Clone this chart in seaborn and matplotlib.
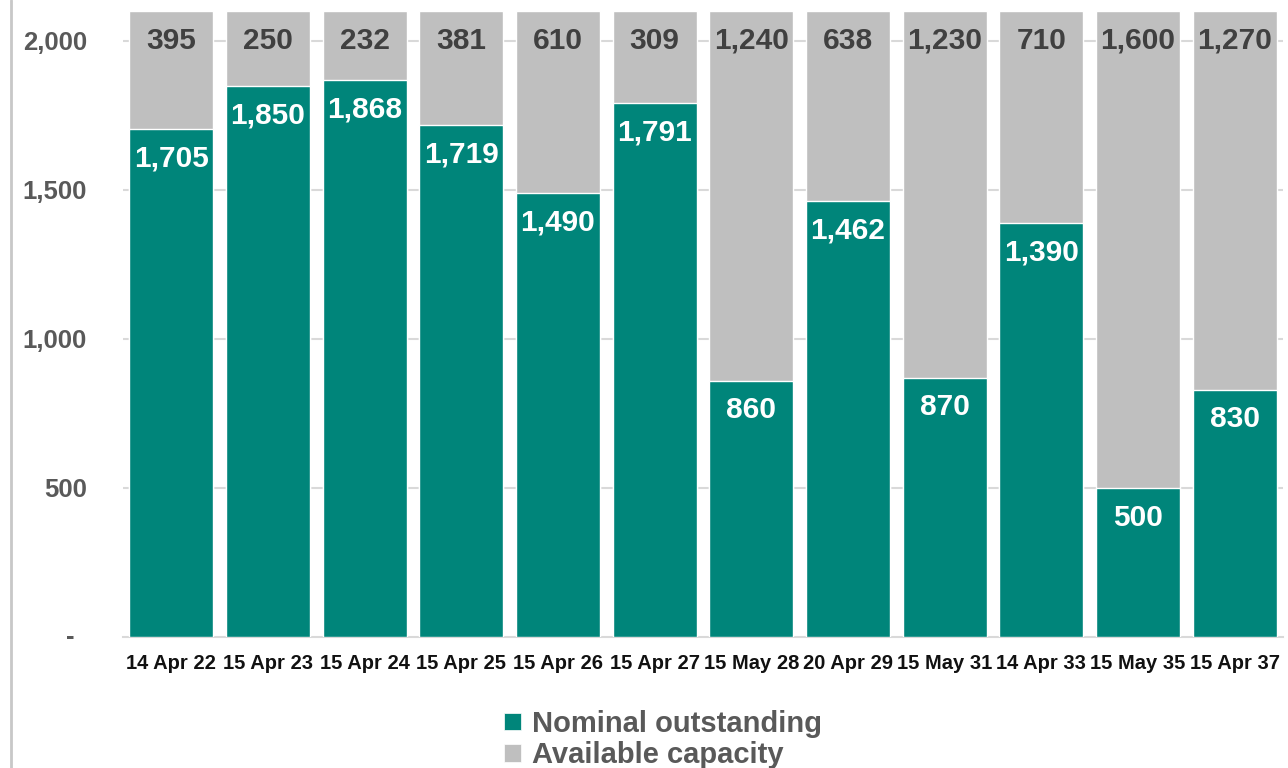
import numpy as np
import pandas as pd
import matplotlib
matplotlib.use("Agg")
import matplotlib.pyplot as plt
import seaborn as sns
from matplotlib.patches import Patch
from matplotlib.lines import Line2D

# data
datas = ["14 Apr 22", "15 Apr 23", "15 Apr 24", "15 Apr 25", "15 Apr 26", "15 Apr 27",
         "15 May 28", "20 Apr 29", "15 May 31", "14 Apr 33", "15 May 35", "15 Apr 37"]
nominal = [1705, 1850, 1868, 1719, 1490, 1791, 860, 1462, 870, 1390, 500, 830]
disponivel = [395, 250, 232, 381, 610, 309, 1240, 638, 1230, 710, 1600, 1270]

TEAL = "#00857A"
CINZA = "#BFBFBF"

sns.set_theme(style="white")
plt.rcParams['font.family'] = ['Liberation Sans', 'DejaVu Sans']

df = pd.DataFrame({"data": datas, "nominal": nominal, "disponivel": disponivel})
df["total"] = df["nominal"] + df["disponivel"]

fig = plt.figure(figsize=(12.88, 7.68), dpi=100)
ax = fig.add_axes([123 / 1288, 1 - 637 / 768, 1160 / 1288, 626 / 768])

sns.barplot(data=df, x="data", y="total", color=CINZA, width=0.87, saturation=1, ax=ax, zorder=2)
sns.barplot(data=df, x="data", y="nominal", color=TEAL, width=0.87, saturation=1, ax=ax, zorder=3)

ax.set_ylim(0, 2100)
ax.set_xlim(-0.5, len(datas) - 0.5)
ax.set_xlabel("")
ax.set_ylabel("")

# grid
for v in [500, 1000, 1500, 2000]:
    ax.axhline(v, color="#D9D9D9", lw=1.5, zorder=1)

# spines
for s in ["left", "right", "top"]:
    ax.spines[s].set_visible(False)
ax.spines["bottom"].set_color("#D9D9D9")
ax.spines["bottom"].set_linewidth(1.5)

# y ticks
ax.set_yticks([0, 500, 1000, 1500, 2000])
ax.set_yticklabels(["", "500", "1,000", "1,500", "2,000"], fontsize=18.5,
                   fontweight="bold", color="#595959")
ax.tick_params(axis="y", length=0, pad=26)
ax.annotate("-", xy=(0, 0), xycoords=("axes fraction", "data"), xytext=(-38, 0),
            textcoords="offset points", ha="center", va="center",
            fontsize=18.5, fontweight="bold", color="#595959")

# x ticks: labels centered, tick marks at boundaries
ax.set_xticks(range(len(datas)))
ax.set_xticklabels(datas, fontsize=14.5, fontweight="bold", color="#111111")
ax.tick_params(axis="x", length=0, pad=12)
ax.set_xticks(np.arange(-0.5, len(datas), 1), minor=True)
ax.tick_params(axis="x", which="minor", length=6, width=1.5, color="#D9D9D9", direction="out")

# value labels
for i, (n, d) in enumerate(zip(nominal, disponivel)):
    ax.text(i, 2000, f"{d:,}", ha="center", va="center", fontsize=21.5,
            fontweight="bold", color="#404040", zorder=5)
    ax.text(i, n - 100, f"{n:,}", ha="center", va="center", fontsize=21.5,
            fontweight="bold", color="white", zorder=5)

# legend
handles = [Patch(facecolor=TEAL, edgecolor="white", lw=0.5, label="Nominal outstanding"),
           Patch(facecolor=CINZA, edgecolor="white", lw=0.5, label="Available capacity")]
leg = fig.legend(handles=handles, loc="upper center", bbox_to_anchor=(0.515, 0.095),
                 ncol=1, frameon=False, handlelength=0.55, handleheight=0.55,
                 handletextpad=0.4, labelspacing=0.12, borderpad=0,
                 prop={"size": 21, "weight": "bold"})
for t in leg.get_texts():
    t.set_color("#595959")

# left border line of the original frame
fig.add_artist(Line2D([11 / 1288, 11 / 1288], [0, 1], transform=fig.transFigure,
                      color="#C8C8C8", lw=2))

fig.savefig("out.png", dpi=100)
